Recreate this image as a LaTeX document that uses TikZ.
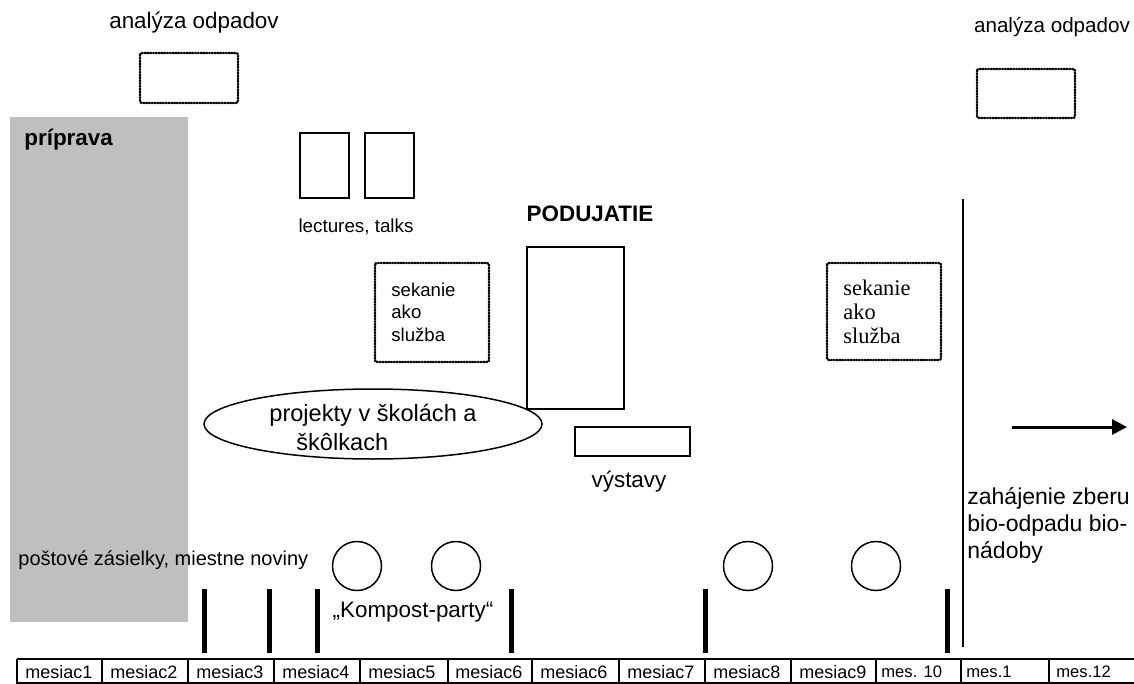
\documentclass[tikz,border=0pt]{standalone}
\usepackage{fontspec}
\setmainfont{Liberation Sans}
\newfontfamily\timesfont{Liberation Serif}
\usetikzlibrary{arrows.meta,shapes.geometric}
\tikzset{
  dotbox/.style={draw, line width=1.2pt, dash pattern=on 0.5pt off 0.9pt, line cap=round, rounded corners=1pt},
  plainbox/.style={draw, line width=0.75pt},
  txt/.style={inner sep=0pt, font=\fontsize{11.2pt}{13.5pt}\selectfont},
  bar/.style={line width=2.5pt},
  cell/.style={inner sep=0pt, anchor=west, font=\fontsize{9pt}{10pt}\selectfont},
  cellsm/.style={inner sep=0pt, anchor=west, font=\fontsize{8.3pt}{10pt}\selectfont},
  circ/.style={draw, circle, line width=0.75pt, minimum size=24.5pt, inner sep=0pt},
}
\begin{document}
\begin{tikzpicture}[x=0.5pt,y=-0.5pt]
\useasboundingbox (0,0) rectangle (1134,684);
% preparation
\fill[gray!50] (10,117) rectangle (188,622);
\node[txt, anchor=west, font=\fontsize{11.2pt}{13.5pt}\selectfont\bfseries] (prip) at (24,140) {príprava};
% waste analysis
\node[txt] (ana1) at (194,23) {analýza odpadov};
\draw[dotbox] (140,53) rectangle (238,103);
\node[txt, font=\fontsize{10.3pt}{12pt}\selectfont] (ana2) at (1052,27) {analýza odpadov};
\draw[dotbox] (977,69) rectangle (1075,118);
% lectures
\draw[plainbox] (300,133) rectangle (349,198);
\draw[plainbox] (365,133) rectangle (414,198);
\node[txt, font=\fontsize{9.4pt}{11pt}\selectfont] (lect) at (356,227) {lectures, talks};
% event
\node[txt, font=\fontsize{11.2pt}{13.5pt}\selectfont\bfseries] (pod) at (590,214) {PODUJATIE};
\draw[plainbox] (527,247) rectangle (624,409);
% mowing as a service
\draw[dotbox] (375,263) rectangle (489,362);
\node[txt, anchor=west, align=left, font=\fontsize{9.3pt}{11.25pt}\selectfont] (sek1) at (391,312) {sekanie\\ako\\služba};
\draw[dotbox] (827,263) rectangle (941,360);
\node[txt, anchor=west, align=left, font=\timesfont\fontsize{11.2pt}{12pt}\selectfont] (sek2) at (843,312) {sekanie\\ako\\služba};
% school projects
\node[draw, ellipse, line width=0.75pt, minimum width=169pt, minimum height=35pt, inner sep=0pt] (ell) at (373,424) {};
\node[txt, align=left, font=\fontsize{11.8pt}{14.5pt}\selectfont] (proj) at (373,427) {projekty v školách a\\\hspace*{13.5pt}škôlkach};
% exhibitions
\draw[plainbox] (575,427) rectangle (690,456);
\node[txt] (vys) at (629,482) {výstavy};
% mail
\node[txt, anchor=west, font=\fontsize{10pt}{12pt}\selectfont] (post) at (18,560) {poštové zásielky, miestne noviny};
% compost parties
\node[circ] (c1) at (357,566) {};
\node[circ] (c2) at (456,566) {};
\node[circ] (c3) at (748,566) {};
\node[circ] (c4) at (876,566) {};
\node[txt] (komp) at (413,612) {„Kompost-party“};
% bars
\foreach \x in {204,269,317,511,705,947} \draw[bar] (\x,589) -- (\x,653);
% start of collection
\draw[line width=0.75pt] (963,199) -- (963,647);
\coordinate (a1) at (1012,427);
\coordinate (a2) at (1127,427);
\draw[line width=1.5pt, -{Triangle[length=7.5pt,width=7.5pt]}] (a1) -- (a2);
\node[txt, anchor=west, align=left, font=\fontsize{11.5pt}{13.5pt}\selectfont] (zber) at (967,525) {zahájenie zberu\\bio-odpadu bio-\\nádoby};
% timeline
\draw[line width=1pt] (17,659) -- (1134,659);
\draw[line width=0.75pt] (17,683) -- (1134,683);
\foreach \x in {17,102,188,274,360,448,532,619,705,791,876,961,1049}
  \draw[line width=0.75pt] (\x,659) -- (\x,684);
\node[cell] (m1) at (25,672) {mesiac1};
\node[cell] (m2) at (110,672) {mesiac2};
\node[cell] (m3) at (196,672) {mesiac3};
\node[cell] (m4) at (282,672) {mesiac4};
\node[cell] (m5) at (368,672) {mesiac5};
\node[cell] (m6) at (455,672) {mesiac6};
\node[cell] (m6b) at (540,672) {mesiac6};
\node[cell] (m7) at (627,672) {mesiac7};
\node[cell] (m8) at (713,672) {mesiac8};
\node[cell] (m9) at (799,672) {mesiac9};
\node[cellsm] (m10) at (881,672) {mes. 10};
\node[cellsm] (m11) at (966,672) {mes.1};
\node[cellsm] (m12) at (1056,672) {mes.12};
\end{tikzpicture}
\end{document}
